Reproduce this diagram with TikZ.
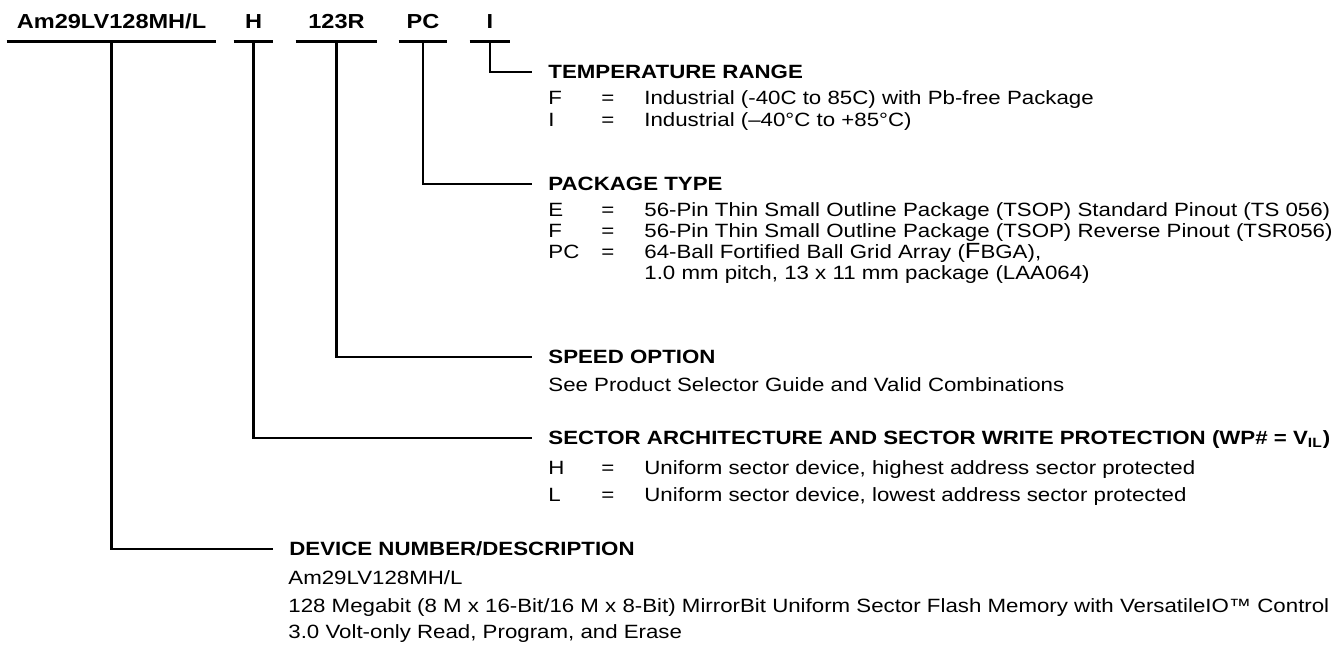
\documentclass[tikz,border=0pt]{standalone}
\usepackage{fontspec}
\setmainfont{Liberation Sans}[FakeStretch=1.16]
\usepackage{tikz}

\tikzset{
  wire/.style={line width=1.2pt},
  field/.style={font=\fontsize{10.15}{12}\selectfont\bfseries, inner xsep=0pt, inner ysep=6.1pt,
    text height=7.27pt, text depth=0pt},
  hdr/.style={font=\fontsize{9.6}{11}\selectfont\bfseries, anchor=west, inner xsep=8pt, inner ysep=0pt,
    text height=6.87pt, text depth=0pt},
  txt/.style={font=\fontsize{9.6}{11}\selectfont, anchor=west, inner sep=0pt,
    text height=6.87pt, text depth=0pt},
}

\begin{document}
\begin{tikzpicture}[x=0.5pt,y=-0.5pt]
\useasboundingbox (0,0) rectangle (1344,645);
% ordering code fields
\node[field, minimum width=104.5pt] (fdev) at (111.5,21.5) {Am29LV128MH/L};
\node[field, minimum width=19.5pt] (fsec) at (253.5,21.5) {H};
\node[field, minimum width=40.5pt] (fspd) at (336.5,21.5) {123R};
\node[field, minimum width=24pt] (fpkg) at (423,21.5) {PC};
\node[field, minimum width=20pt] (ftmp) at (490,21.5) {I};
\draw[wire] (fdev.south west) -- (fdev.south east);
\draw[wire] (fsec.south west) -- (fsec.south east);
\draw[wire] (fspd.south west) -- (fspd.south east);
\draw[wire] (fpkg.south west) -- (fpkg.south east);
\draw[wire] (ftmp.south west) -- (ftmp.south east);
%
% temperature range
\node[hdr] (htmp) at (532,72) {TEMPERATURE RANGE};
\node[txt] (tmpF) at (548,98) {F};
\node[txt] (tmpFeq) at (601,98) {=};
\node[txt] (tmpFtx) at (644,98) {Industrial (-40C to 85C) with Pb-free Package};
\node[txt] (tmpI) at (548,119.5) {I};
\node[txt] (tmpIeq) at (601,119.5) {=};
\node[txt] (tmpItx) at (644,119.5) {Industrial (–40°C to +85°C)};
%
% package type
\node[hdr] (hpkg) at (532,184) {PACKAGE TYPE};
\node[txt] (pkgE) at (548,210) {E};
\node[txt] (pkgEeq) at (601,210) {=};
\node[txt] (pkgEtx) at (644,210) {56-Pin Thin Small Outline Package (TSOP) Standard Pinout (TS 056)};
\node[txt] (pkgF) at (548,231) {F};
\node[txt] (pkgFeq) at (601,231) {=};
\node[txt] (pkgFtx) at (644,231) {56-Pin Thin Small Outline Package (TSOP) Reverse Pinout (TSR056)};
\node[txt] (pkgP) at (548,252) {PC};
\node[txt] (pkgPeq) at (601,252) {=};
\node[txt] (pkgPtx) at (644,252) {64-Ball Fortified Ball Grid Array ({\fontsize{11}{12}\selectfont F}BGA),};
\node[txt] (pkgPtx2) at (644,273) {1.0 mm pitch, 13 x 11 mm package (LAA064)};
%
% speed option
\node[hdr] (hspd) at (532,357) {SPEED OPTION};
\node[txt] (spdtx) at (548,385) {See Product Selector Guide and Valid Combinations};
%
% sector architecture
\node[hdr] (hsec) at (532,438) {SECTOR ARCHITECTURE AND SECTOR WRITE PROTECTION (WP\# = V\textsubscript{IL})};
\node[txt] (secH) at (548,468) {H};
\node[txt] (secHeq) at (601,468) {=};
\node[txt] (secHtx) at (644,468) {Uniform sector device, highest address sector protected};
\node[txt] (secL) at (548,495) {L};
\node[txt] (secLeq) at (601,495) {=};
\node[txt] (secLtx) at (644,495) {Uniform sector device, lowest address sector protected};
%
% device number
\node[hdr] (hdev) at (273,549) {DEVICE NUMBER/DESCRIPTION};
\node[txt] (devtx1) at (288,578) {Am29LV128MH/L};
\node[txt] (devtx2) at (288,606) {128 Megabit (8 M x 16-Bit/16 M x 8-Bit) MirrorBit Uniform Sector Flash Memory with VersatileIO™ Control};
\node[txt] (devtx3) at (288,632) {3.0 Volt-only Read, Program, and Erase};
%
\draw[wire] (ftmp.south) |- (htmp.west);
\draw[wire] (fpkg.south) |- (hpkg.west);
\draw[wire] (fspd.south) |- (hspd.west);
\draw[wire] (fsec.south) |- (hsec.west);
\draw[wire] (fdev.south) |- (hdev.west);
\end{tikzpicture}
\end{document}
